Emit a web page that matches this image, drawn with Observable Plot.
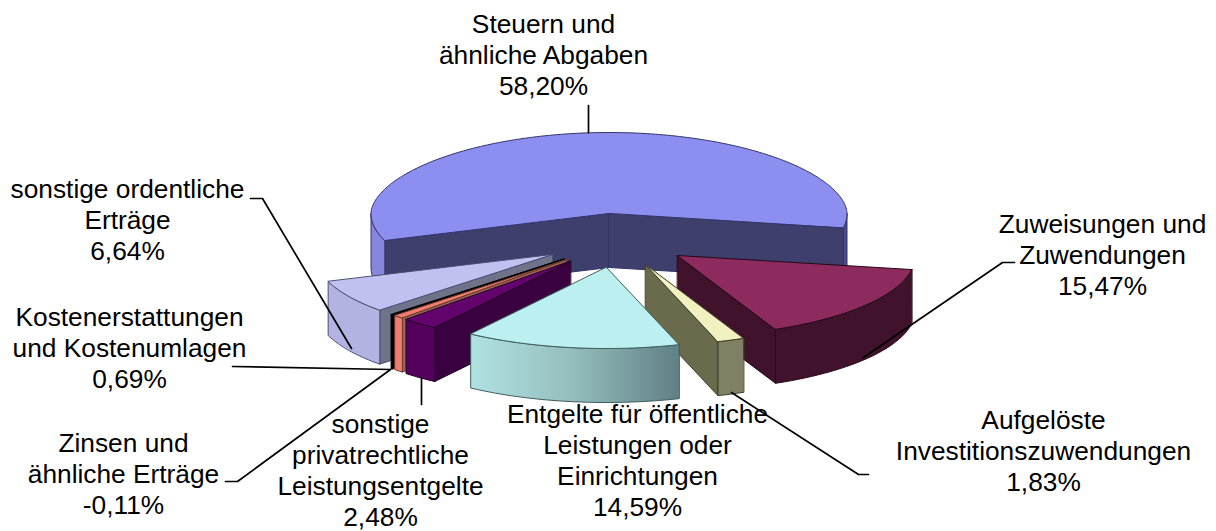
<!DOCTYPE html>
<html><head><meta charset="utf-8">
<style>html,body{margin:0;padding:0;background:#fff}svg{display:block}</style>
<script src="https://cdn.jsdelivr.net/npm/d3@7"></script>
<script src="https://cdn.jsdelivr.net/npm/@observablehq/plot@0.6"></script>
</head><body><div id="chart"></div>
<script>
// Data
const categories = ["Steuern und\nähnliche Abgaben","Zuweisungen und\nZuwendungen","Aufgelöste\nInvestitionszuwendungen","Entgelte für öffentliche\nLeistungen oder\nEinrichtungen","sonstige\nprivatrechtliche\nLeistungsentgelte","Kostenerstattungen\nund Kostenumlagen","Zinsen und\nähnliche Erträge","sonstige ordentliche\nErträge"];
const shares = [58.20,15.47,1.83,14.59,2.48,0.69,-0.11,6.64];

// Styling and layout (per slice: apex, colours, label anchor, leader)
const apex = [[608.5,213],[677,255],[645,264],[606,267],[570,260.5],[566,259],[563.5,258.5],[552,254]];
const topFill = ["#8d8ff0","#8e2b5e","#f1f0c0","#bcf0f0","#62046c","#f07d6e","#000000","#c0c1f1"];
const outerFill = ["#8687dc","#40122c","#7f8064","url(#entgelte)","#54005c","#ee7e72","#000000","#b2b3e2"];
const wallFill = ["#3e3f6c","#40122c","#6a6b4c","#6a8a8c","#3a0040","#9b6450","#000000","#6f738a"];
const edge = ["#33346a","#260a1a","#3c3d28","#3f5c5c","#22002a","#6a3a30","#000000","#4c4e70"];
const rightWallFill = "#4a4c90";
const labelAt = [[543,94],[1102,294],[1043,490],[637,515],[380,525],[129,387],[123,513],[127,259]];
const leaders = [
  [[588,105],[588,132]],
  [[1014,262],[1002,262],[863,357]],
  [[868,474],[858,474],[731,392]],
  [[421,378],[421,404]],
  [[232,366],[390,369]],
  [[225,481],[237,481],[390,369]],
  [[250,198],[262,198],[351,348]]
];
const paintOrder = [0,7,6,5,4,1,2,3];
const rx = 238, ry = 81, depth = 54, startAngle = -109.5, backPower = 1.1;

const total = d3.sum(shares, Math.abs);
let acc = startAngle;
const spans = shares.map(v => { const a0 = acc; acc += Math.abs(v) / total * 360; return [a0, acc]; });
const rad = d => d * Math.PI / 180;
const rim = (i, a, dz = 0) => {
  const c = Math.cos(rad(a));
  // the far half of the disc is slightly foreshortened in the reference's perspective
  const v = c > 0 ? Math.pow(c, backPower) : c;
  return {x: apex[i][0] + rx * Math.sin(rad(a)), y: apex[i][1] - ry * v + dz};
};
const arc = (i, a0, a1, dz = 0) => {
  const out = [], n = Math.max(2, Math.ceil(Math.abs(a1 - a0)));
  for (let k = 0; k <= n; ++k) out.push(rim(i, a0 + (a1 - a0) * k / n, dz));
  return out;
};
const centre = (i, dz = 0) => ({x: apex[i][0], y: apex[i][1] + dz});
const face = (pts, fill, stroke) => Plot.line(pts, {x: "x", y: "y", fill, stroke, strokeWidth: 1, strokeLinejoin: "round", curve: "linear-closed"});

const marks = [() => {
  const defs = d3.create("svg:defs");
  const g = defs.append("linearGradient").attr("id", "entgelte");
  g.append("stop").attr("offset", "0%").attr("stop-color", "#b0e2e2");
  g.append("stop").attr("offset", "50%").attr("stop-color", "#94bcbc");
  g.append("stop").attr("offset", "100%").attr("stop-color", "#5f8085");
  return defs.node();
}];

for (const i of paintOrder) {
  const [a0, a1] = spans[i];
  const s0 = Math.sin(rad(a0)), s1 = Math.sin(rad(a1));
  if (s0 < 0) marks.push(face([centre(i), rim(i, a0), rim(i, a0, depth), centre(i, depth)], wallFill[i], edge[i]));
  if (s1 > 0) marks.push(face([centre(i), rim(i, a1), rim(i, a1, depth), centre(i, depth)], wallFill[i], edge[i]));
  // front-facing outer wall: the part of the arc that lies in 90..270 degrees
  const segs = [[Math.max(a0, 90), Math.min(a1, 270), i === 0 ? rightWallFill : outerFill[i]], [Math.max(a0, -270), Math.min(a1, -90), outerFill[i]]];
  for (const [b0, b1, fill] of segs) {
    if (b1 > b0) marks.push(face([...arc(i, b0, b1), ...arc(i, b1, b0, depth)], fill, edge[i]));
  }
  marks.push(face([centre(i), ...arc(i, a0, a1)], topFill[i], edge[i]));
}

for (const l of leaders) {
  marks.push(Plot.line(l.map(([x, y]) => ({x, y})), {x: "x", y: "y", stroke: "#000", strokeWidth: 1.7}));
}

const fmt = v => v.toFixed(2).replace(".", ",") + "%";
const labels = categories.map((c, i) => ({text: c + "\n" + fmt(shares[i]), x: labelAt[i][0], y: labelAt[i][1]}));
marks.push(Plot.text(labels, {x: "x", y: "y", text: "text", textAnchor: "middle", lineAnchor: "bottom", lineHeight: 31 / 26.3, fontSize: 26.3, fontFamily: "Liberation Sans, Arial, sans-serif", fill: "#000"}));

document.getElementById("chart").append(Plot.plot({
  width: 1216, height: 531, margin: 0,
  x: {domain: [0, 1216], range: [0, 1216], axis: null},
  y: {domain: [0, 531], range: [0, 531], axis: null},
  marks
}));
</script></body></html>
